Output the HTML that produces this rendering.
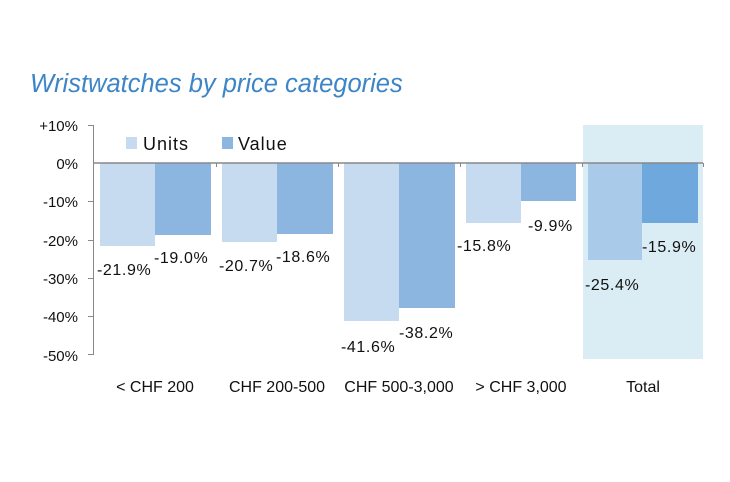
<!DOCTYPE html>
<html><head><style>body{margin:0;background:#fff}svg{display:block}text{font-family:"Liberation Sans",sans-serif;fill:#111}</style></head>
<body>
<svg width="730" height="482" viewBox="0 0 730 482">
<text x="30" y="92" style="font-style:italic;font-size:25.5px;fill:#3d85c6">Wristwatches by price categories</text>
<rect x="583" y="125" width="120" height="234" fill="#daedf5"/>
<g font-size="15" text-anchor="end">
<text x="78" y="131">+10%</text><text x="78" y="169">0%</text><text x="78" y="207">-10%</text>
<text x="78" y="246">-20%</text><text x="78" y="284">-30%</text><text x="78" y="322">-40%</text><text x="78" y="361">-50%</text>
</g>
<g stroke="#888" stroke-width="1">
<line x1="93.5" y1="125" x2="93.5" y2="355"/>
<line x1="88" y1="125.5" x2="93" y2="125.5"/><line x1="88" y1="201.5" x2="93" y2="201.5"/>
<line x1="88" y1="240.5" x2="93" y2="240.5"/><line x1="88" y1="278.5" x2="93" y2="278.5"/><line x1="88" y1="316.5" x2="93" y2="316.5"/><line x1="88" y1="354.5" x2="93" y2="354.5"/>
</g>
<g>
<rect x="100" y="163" width="55" height="83" fill="#c6dbf0"/><rect x="155" y="163" width="56" height="72" fill="#8cb6e0"/>
<rect x="222" y="163" width="55" height="79" fill="#c6dbf0"/><rect x="277" y="163" width="56" height="71" fill="#8cb6e0"/>
<rect x="344" y="163" width="55" height="158" fill="#c6dbf0"/><rect x="399" y="163" width="56" height="145" fill="#8cb6e0"/>
<rect x="466" y="163" width="55" height="60" fill="#c6dbf0"/><rect x="521" y="163" width="55" height="38" fill="#8cb6e0"/>
<rect x="588" y="163" width="54" height="97" fill="#a9cbe9"/><rect x="642" y="163" width="56" height="60" fill="#6fa8dc"/>
</g>
<g stroke="#888" stroke-width="1.5"><line x1="93" y1="163" x2="703" y2="163"/></g>
<g stroke="#888"><line x1="216.5" y1="163" x2="216.5" y2="167"/><line x1="338.5" y1="163" x2="338.5" y2="167"/><line x1="460.5" y1="163" x2="460.5" y2="167"/><line x1="582.5" y1="163" x2="582.5" y2="167"/><line x1="703.5" y1="163" x2="703.5" y2="167"/></g>
<rect x="126" y="137" width="11" height="12" fill="#c6dbf0"/><text x="143" y="150" font-size="18" letter-spacing="1">Units</text>
<rect x="222" y="137" width="11" height="12" fill="#8cb6e0"/><text x="238" y="150" font-size="18" letter-spacing="1">Value</text>
<g font-size="16" letter-spacing="0.6">
<text x="97" y="275">-21.9%</text><text x="154" y="263">-19.0%</text>
<text x="219" y="271">-20.7%</text><text x="276" y="262">-18.6%</text>
<text x="341" y="352">-41.6%</text><text x="399" y="338">-38.2%</text>
<text x="457" y="251">-15.8%</text><text x="528" y="231">-9.9%</text>
<text x="585" y="290">-25.4%</text><text x="642" y="252">-15.9%</text>
</g>
<g font-size="16" text-anchor="middle">
<text x="155" y="392">&lt; CHF 200</text><text x="277" y="392">CHF 200-500</text><text x="399" y="392">CHF 500-3,000</text>
<text x="521" y="392">&gt; CHF 3,000</text><text x="643" y="392">Total</text>
</g>
</svg>
</body></html>
